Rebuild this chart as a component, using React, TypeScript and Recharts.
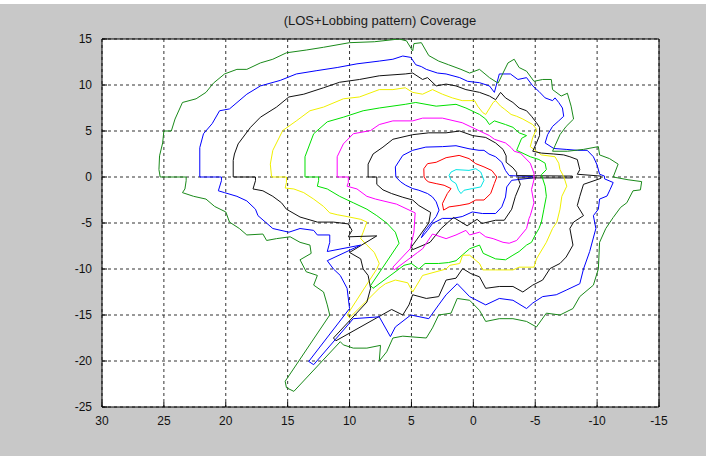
import React from 'react';
import { LineChart, Line, XAxis, YAxis, CartesianGrid, ReferenceArea } from 'recharts';

// contour levels, innermost first; each is a closed path of [x, y]
const cyan1 = [[1.96,0.18],[1.8,0.54],[1.4,0.8],[0.35,0.72],[-0.2,0.9],[-0.6,0.54],[-0.86,-0.36],[-0.6,-1.08],[0.08,-1.26],[0.75,-1.44],[1.0,-1.8],[1.2,-1.44],[1.4,-0.72],[1.8,-0.36],[1.96,0.18]];

const red2 = [[3.98,0],[4,0.9],[3.7,1.45],[3,1.6],[2.2,2.1],[1.15,2.35],[0.35,2],[-0.2,1.45],[-0.86,1.1],[-1.5,0.7],[-1.9,0],[-1.7,-0.7],[-1.4,-1.8],[-0.86,-2.5],[-0.2,-2.5],[0.35,-2.9],[1.15,-3.1],[1.96,-3.25],[2.4,-3.6],[2.5,-2.9],[2.1,-1.8],[1.8,-1.26],[2.36,-0.9],[3,-0.72],[3.6,-0.54],[3.8,-0.36],[3.98,0]];

const blue3 = [[6.26,0],[6.3,1.1],[5.7,2.35],[4.9,2.9],[3.84,3.25],[2.5,3.3],[1.4,3.4],[0.35,3.07],[-0.46,2.9],[-0.86,2.9],[-1.26,2.5],[-1.8,2.2],[-2.3,1.6],[-2.6,0.7],[-2.9,0.15],[-4.8,0.05],[-4.8,-0.1],[-3.1,-0.36],[-2.7,-1.08],[-2.6,-2.17],[-2.3,-3.25],[-1.8,-3.97],[-0.73,-3.97],[0.08,-3.8],[0.9,-4.3],[1.7,-4.5],[2.5,-4.5],[3.3,-5.05],[3.7,-5.8],[4.2,-6.6],[4.0,-6.0],[3.0,-4.3],[2.77,-3.6],[3.0,-2.7],[3.3,-2.17],[3.7,-1.8],[4.4,-1.44],[4.9,-1.26],[5.46,-0.9],[5.86,-0.54],[6.26,0]];

const black4 = [[8.5,0],[8.5,1.4],[8.1,2.5],[7.3,3.25],[6.5,4.1],[4.9,4.6],[3.6,4.8],[2.2,4.8],[1.1,5.0],[0.05,4.5],[-1,4.3],[-1.8,3.7],[-2.4,3.0],[-2.65,2.3],[-2.65,1.6],[-3.2,1.0],[-3.5,0.5],[-3.5,0.15],[-8,0.1],[-8,-0.1],[-3.6,-0.1],[-3.8,-0.8],[-3.4,-2.1],[-3.1,-3.5],[-2.5,-4.7],[-1.8,-4.7],[-0.7,-5.05],[-0.3,-4.6],[0.5,-5.3],[1.6,-4.4],[2.6,-5.6],[3.5,-7.1],[4.9,-7.9],[5.0,-7.6],[3.6,-5],[3.45,-3.85],[4.4,-3.1],[4.9,-2.5],[5.7,-2.2],[6.6,-1.8],[7.3,-1.4],[7.8,-0.8],[7.8,0],[8.5,0]];

const magenta5 = [[11,0],[11,2.2],[10.5,3.6],[9.7,4.7],[8.3,5.05],[7.6,5.7],[6.5,6.1],[4.9,6.1],[4.1,6.4],[2.5,6.4],[0.9,5.9],[-0.2,5.2],[-1.3,4.5],[-1.7,4.1],[-2.6,3.7],[-3.05,3.2],[-3.3,2.8],[-3.8,2.6],[-4.6,1.5],[-4.9,0.4],[-4.9,-0.3],[-4.7,-1.36],[-4.9,-2.8],[-4.6,-4.2],[-4.5,-4.5],[-4.3,-5.6],[-3.5,-6.9],[-2.9,-7.2],[-2.4,-7.1],[-1.6,-6.7],[-1,-6.5],[-0.5,-6],[0.3,-6.3],[0.6,-5.8],[1.4,-6.3],[2.2,-6.7],[3.3,-6.2],[4.1,-7.8],[4.5,-8.2],[6.4,-10.1],[6.5,-9.8],[5.1,-7.8],[4.8,-6],[4.7,-3.9],[6.2,-2.95],[7.9,-2.4],[8.6,-2.1],[9.4,-1.3],[10.2,-1],[10.1,-0.6],[10.1,0],[11,0]];

const green6 = [[13.6,0],[13.6,2.2],[12.9,4.7],[11.8,6],[10.5,6.5],[8.9,7.2],[7.6,7.5],[5.5,7.9],[4.65,8.1],[3,7.7],[1.4,7.9],[0.6,7.5],[-0.5,6.8],[-1,6.3],[-1.3,5.7],[-1.7,6.1],[-2.6,5.7],[-3.2,5.4],[-3.7,4.8],[-4.3,4.5],[-3.9,4.2],[-3.5,2.9],[-4.6,2.2],[-5.3,1.9],[-5.8,1.5],[-5.9,0.8],[-5.5,0.25],[-5.8,-1],[-5.9,-2.1],[-5.7,-3.5],[-5.5,-4.9],[-5.3,-5.6],[-5,-6.3],[-4.7,-7.1],[-4.3,-7.4],[-3.7,-8.1],[-3.2,-8.5],[-2.6,-9],[-1.8,-8.9],[-0.8,-8.3],[-0.5,-7.4],[0.3,-7.8],[0.9,-8.5],[1.4,-9.1],[2,-9.3],[2.8,-9.4],[3.9,-9.4],[4.4,-10],[5,-9.4],[5.6,-9.6],[8.1,-12.1],[8.3,-11.8],[6,-7.2],[6.3,-6],[7,-5],[7.8,-4.2],[8.6,-3.5],[9.7,-2.8],[10.8,-2.1],[11.8,-1.3],[12.6,-1],[12.5,-0.4],[12.5,0],[13.6,0]];

const yellow7 = [[16.3,0],[16.4,1.4],[16.2,2.9],[15.4,5.05],[14.3,6.1],[13.2,7.2],[12.1,7.6],[10.5,8.5],[9.2,8.7],[7.6,9.5],[6.5,9.5],[5.5,9.7],[4.9,9.2],[4.1,9],[3.3,9.5],[2.5,9],[1.7,8.6],[0.9,8.3],[-0.1,8.3],[-0.35,7.7],[-0.76,7],[-1,6.8],[-1.6,8.1],[-1.8,8.3],[-2.2,7.7],[-2.5,7.4],[-3.05,6.8],[-3.5,6.6],[-4,6.3],[-4.8,5.7],[-5.1,5.2],[-4.8,4.3],[-4.6,3.3],[-5.5,2.4],[-6.6,2.2],[-6.9,1.5],[-7,0.8],[-7.3,0.07],[-7.55,-1],[-7.15,-2.1],[-7,-3.5],[-6.75,-4.9],[-6.4,-5.6],[-5.9,-7.1],[-5.1,-8.9],[-4.9,-9.8],[-3.7,-9.8],[-3.2,-10.1],[-1.8,-10.1],[-0.76,-10.1],[-0.5,-9.4],[0.3,-8.5],[0.86,-8.5],[1.1,-9.4],[1.9,-9.6],[2.2,-10],[4.1,-10.7],[4.9,-12.5],[5.3,-11.5],[6.3,-11.2],[7.1,-11.6],[7.6,-12.1],[10,-15.3],[10.2,-15],[7.8,-10],[7.6,-9.4],[8,-8.2],[8.6,-7.4],[9.1,-6.7],[8.9,-6],[8.6,-4.9],[9.1,-4.6],[10.2,-4.3],[11,-4.1],[11.6,-3.9],[12.1,-3.2],[12.9,-2.4],[13.7,-1.7],[14.5,-1.3],[15.2,-1.2],[15.1,-0.6],[15.1,0],[16.3,0]];

const black8 = [[19.4,0],[19.4,1.8],[19.3,2.5],[19,3.6],[18,5.4],[17.2,6.5],[15.9,7.6],[14.9,8.7],[13.7,9],[12.1,9.7],[10.8,10.3],[9.2,10.6],[7.6,11],[5.5,11.2],[4.9,11.3],[4.1,10.6],[3.7,10.8],[3,9.9],[2.2,10.1],[1.4,9.9],[0.6,9.5],[-0.5,9.2],[-1.3,8.8],[-1.8,8.4],[-2.2,9.2],[-2.6,8.6],[-3.2,8.1],[-3.7,7.5],[-4.3,7.2],[-4.7,6.6],[-5.1,5.9],[-5.35,5.4],[-5.35,4.5],[-5.1,3.7],[-4.8,2.8],[-5.5,2.6],[-6.5,2.5],[-7.3,2.4],[-7.8,2.2],[-8.4,1.9],[-8.6,0.8],[-8.4,0.3],[-10.3,0.1],[-10.3,-0.15],[-8.9,-0.8],[-8.6,-2.1],[-8.4,-3.1],[-8.9,-4.2],[-8.1,-4.9],[-7.8,-5.6],[-8.05,-7.4],[-7.5,-8.7],[-7,-9.4],[-6.2,-9.95],[-5.6,-11.2],[-4.8,-11.75],[-4,-12.5],[-3.2,-11.9],[-2.1,-11.9],[-1,-12.1],[-0.5,-10.85],[0.2,-10.5],[0.86,-9.95],[1.4,-11],[2.2,-11.2],[2.8,-13],[3.8,-13.2],[4.9,-12.8],[5.2,-13.9],[5.7,-15],[6.6,-14.4],[11.1,-17.8],[11.3,-17.5],[8.6,-13.6],[8.3,-12.1],[8.5,-10.7],[8.9,-10],[9.1,-8.9],[10,-8.2],[7.8,-6.4],[10.1,-6.5],[9.8,-5.8],[10.1,-5.1],[11.3,-4.9],[12.6,-4.9],[14,-4.35],[15.1,-3.5],[15.5,-2.8],[16.2,-2.1],[17,-1.5],[17.8,-1.3],[17.6,-0.4],[17.6,0],[19.4,0]];

const blue9 = [[22.1,0],[22.1,3.2],[21.8,4.7],[21.1,5.8],[20.5,7.2],[19.7,7.4],[18.3,9],[17.2,9.9],[15.6,10.5],[14.3,11.2],[12.7,11.55],[11,11.9],[9.4,12.3],[7.6,12.6],[6.5,12.8],[5.7,13.15],[5.05,13],[4.65,12.2],[4.2,12],[3.8,11.7],[2.9,11.3],[2.2,11.2],[1.1,10.8],[0.46,10.4],[-0.5,10.25],[-1.3,9.9],[-1.7,9.2],[-2.1,11.2],[-3,11.2],[-3.6,10.6],[-4.3,10.8],[-4.8,9.9],[-5.3,9.3],[-5.8,8.6],[-6.4,8.3],[-6.6,8.6],[-6.9,8.1],[-7.2,7.5],[-7.3,6.6],[-6.9,6.1],[-6.4,5.5],[-6,4.6],[-5.8,3.7],[-6.5,3.1],[-7.5,3.0],[-8.4,2.9],[-9.2,2.9],[-9.7,2.2],[-10,1.3],[-10.2,0.3],[-10.6,0.1],[-10.6,-0.2],[-11.3,-0.6],[-11.05,-1.36],[-10.8,-2.07],[-10.2,-2.4],[-10.1,-3.5],[-9.7,-4.2],[-9.9,-5.6],[-9.4,-8.1],[-8.9,-10],[-8.6,-11.6],[-7.5,-12.3],[-6.7,-12.8],[-5.6,-13],[-4.8,-13.7],[-4.3,-14.3],[-3.2,-13.4],[-2.1,-13.2],[-1,-13.9],[0.3,-13],[1.3,-11.6],[2.2,-12.8],[2.8,-13.9],[3.6,-15.4],[5.05,-15],[6.3,-16.3],[6.7,-17.35],[7.6,-15.2],[9.7,-15.4],[12.9,-20.4],[13.3,-20.05],[10,-14.3],[10.2,-12.1],[10.75,-10.7],[11.3,-10],[11.8,-9.1],[9.1,-7.4],[11.8,-8.1],[11.6,-7.1],[11.6,-6.3],[12.6,-6.3],[12.9,-5.8],[14,-5.6],[14.9,-6],[16.2,-5.6],[17.4,-4.2],[17.6,-3.5],[18.3,-2.6],[19.1,-2.1],[20.1,-1.7],[20.6,-1.5],[20.35,-0.4],[20.35,0],[22.1,0]];

const green10 = [[25.3,0],[25.4,0.8],[25.35,2.3],[25.1,3.7],[25,5],[24.4,5],[24.1,6.3],[23.5,8.1],[22.4,8.5],[21.6,9.2],[21,10.2],[20.1,11.2],[19.1,11.7],[18.3,11.7],[17.2,12.4],[16.2,12.8],[15.1,13.5],[13.5,13.8],[12.1,14.1],[10,14.6],[8,14.7],[6,15],[5.4,14.8],[4.9,13.7],[4.8,14.5],[4.2,14.6],[3.6,13.2],[2.8,12.6],[2,12.2],[1,11.7],[0.3,11.3],[-0.5,11.7],[-1.3,10.8],[-2,10.2],[-2.8,12.4],[-3.3,12.8],[-3.7,11.9],[-4.3,11.5],[-4.9,10.4],[-5.6,10.6],[-6.3,10.6],[-6.4,9.5],[-7.1,8.8],[-7.6,9.1],[-7.9,7.7],[-8.1,6.3],[-7.5,5.5],[-7,4.6],[-6.6,3.4],[-6.4,2.8],[-7.6,2.8],[-8.9,3.0],[-10.1,3.3],[-10.2,2.4],[-11,2],[-11.7,1.4],[-11.3,0],[-12.5,-0.3],[-13.6,-0.5],[-13.5,-1.4],[-12.9,-1.5],[-12.4,-2.8],[-11.9,-3.3],[-11.3,-4.4],[-10.7,-5.6],[-10.2,-7.1],[-10.1,-10],[-9.7,-11.75],[-8.6,-13],[-8.05,-14.3],[-7,-15],[-5.9,-14.8],[-5.1,-16.3],[-4.3,-15.7],[-3.2,-15.4],[-2.1,-15.4],[-1,-15.7],[-0.5,-14.5],[0.3,-13.4],[1.3,-13.2],[1.8,-14.8],[2.8,-15],[3.3,-16.4],[3.8,-17.5],[5.7,-17.3],[6.5,-17.5],[7.0,-19],[7.6,-20],[7.5,-18.3],[8.6,-18.6],[9.7,-18.6],[10.5,-18.25],[10.75,-17.9],[14.5,-23.3],[15.1,-22.9],[15.2,-22.2],[11.6,-15],[11.8,-13.9],[12.1,-12.5],[12.9,-11.75],[12.6,-10.7],[13.5,-10.3],[14,-9],[13.1,-8.3],[13.2,-7.4],[14,-7.1],[14.8,-6.5],[15.9,-6.7],[16.7,-6.9],[17,-6.2],[18.3,-6.3],[18.9,-5.6],[19.7,-4.9],[20,-3.8],[20.9,-3.2],[21.6,-2.4],[22.6,-2.1],[23.5,-1.7],[23.3,-1.3],[23.2,-0.4],[23.2,0],[25.3,0]];

const xTicks = [30, 25, 20, 15, 10, 5, 0, -5, -10, -15];
const yTicks = [-25, -20, -15, -10, -5, 0, 5, 10, 15];

const contours = [
  { name: 'c1', pts: cyan1, color: '#00e5e5' },
  { name: 'c2', pts: red2, color: '#ff0000' },
  { name: 'c3', pts: blue3, color: '#0000ff' },
  { name: 'c4', pts: black4, color: '#111111' },
  { name: 'c5', pts: magenta5, color: '#ff00ff' },
  { name: 'c6', pts: green6, color: '#00e000' },
  { name: 'c7', pts: yellow7, color: '#f0f000' },
  { name: 'c8', pts: black8, color: '#111111' },
  { name: 'c9', pts: blue9, color: '#0000ff' },
  { name: 'c10', pts: green10, color: '#1a8a1a' },
];

const toPts = (a: number[][]) => a.map(([x, y]) => ({ x, y }));

const font = '"Liberation Sans", Arial, sans-serif';

export default function App() {
  return (
    <div style={{ position: 'absolute', left: 0, top: 0, width: 715, height: 456, background: '#fff' }}>
      <div style={{ position: 'absolute', left: 0, top: 4, width: 706, height: 452, background: '#c8c8c8' }} />
      <div
        style={{
          position: 'absolute',
          top: 13,
          left: 380,
          transform: 'translateX(-50%)',
          fontFamily: font,
          fontSize: 13,
          color: '#1a1a1a',
          whiteSpace: 'nowrap',
        }}
      >
        (LOS+Lobbing pattern) Coverage
      </div>
      <div style={{ position: 'absolute', left: 0, top: 0 }}>
        <LineChart width={715} height={456} margin={{ top: 39, right: 56, left: 62, bottom: 19 }}>
          <CartesianGrid
            ticks={undefined}
            stroke="#333"
            strokeDasharray="3 3"
            fill="#fff"
            fillOpacity={1}
          />
          <XAxis
            type="number"
            dataKey="x"
            domain={[-15, 30]}
            reversed
            ticks={xTicks}
            allowDataOverflow
            height={30}
            axisLine={false}
            tickLine={{ stroke: '#000' }}
            tickSize={-5}
            tickMargin={14}
            interval={0}
            tick={{ fill: '#111', fontSize: 12, fontFamily: font }}
          />
          <YAxis
            type="number"
            dataKey="y"
            domain={[-25, 15]}
            ticks={yTicks}
            allowDataOverflow
            width={40}
            axisLine={false}
            tickLine={{ stroke: '#000' }}
            tickSize={-5}
            tickMargin={15}
            interval={0}
            tick={{ fill: '#111', fontSize: 12, fontFamily: font }}
          />
          <ReferenceArea x1={30} x2={-15} y1={-25} y2={15} fill="none" stroke="#000" strokeWidth={1} />
          {contours.map((c) => (
            <Line
              key={c.name}
              data={toPts(c.pts)}
              dataKey="y"
              type="linear"
              stroke={c.color}
              strokeWidth={1}
              dot={false}
              activeDot={false}
              isAnimationActive={false}
            />
          ))}
        </LineChart>
      </div>
    </div>
  );
}
